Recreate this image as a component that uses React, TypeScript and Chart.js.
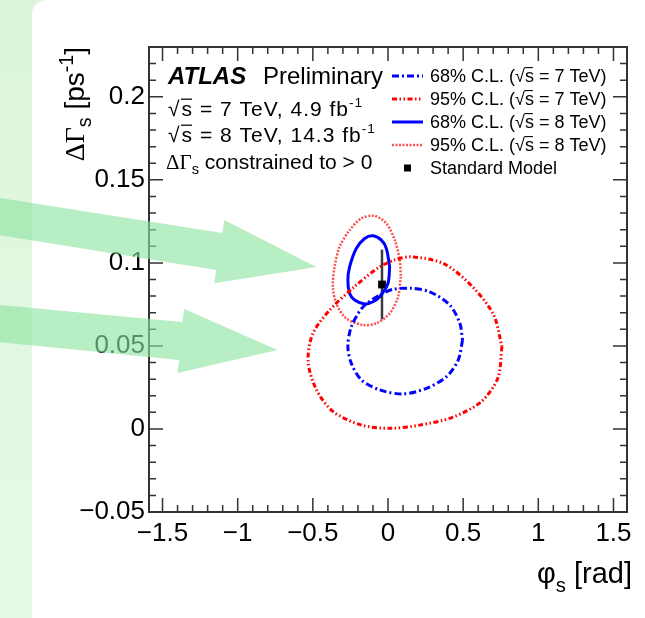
import React, { useEffect, useRef } from 'react';
import { Chart, registerables } from 'chart.js';

Chart.register(...registerables);

// ---- axis ranges and tick labels ----
const X_MIN = -1.59;
const X_MAX = 1.59;
const Y_MIN = -0.05;
const Y_MAX = 0.23;
const X_TICKS = [-1.5, -1, -0.5, 0, 0.5, 1, 1.5];
const Y_TICKS = [-0.05, 0, 0.05, 0.1, 0.15, 0.2];

// ---- contours (phi_s [rad], DeltaGamma_s [ps^-1]) ----
const CL68_7TEV_PHI = [0.496, 0.467, 0.389, 0.256, 0.1, -0.055, -0.177, -0.244, -0.267, -0.244, -0.165, -0.055, 0.033, 0.156, 0.278, 0.411, 0.478];
const CL68_7TEV_DG = [0.0535, 0.0415, 0.0315, 0.0245, 0.0211, 0.0235, 0.0295, 0.0395, 0.0495, 0.0616, 0.0736, 0.0806, 0.0841, 0.0847, 0.0826, 0.0746, 0.0636];

const CL95_7TEV_PHI = [0.758, 0.731, 0.621, 0.429, 0.21, 0.018, -0.176, -0.367, -0.476, -0.531, -0.503, -0.394, -0.229, -0.065, 0.045, 0.155, 0.374, 0.567, 0.703];
const CL95_7TEV_DG = [0.0496, 0.0307, 0.0165, 0.007, 0.0023, 0.0004, 0.0023, 0.0106, 0.0236, 0.0402, 0.0568, 0.071, 0.0852, 0.0971, 0.1018, 0.1037, 0.0994, 0.0852, 0.0686];

const CL68_8TEV_PHI = [0.011, 0.0, -0.055, -0.1, -0.155, -0.222, -0.255, -0.267, -0.255, -0.211, -0.155, -0.1, -0.044, -0.011];
const CL68_8TEV_DG = [0.0977, 0.0877, 0.0796, 0.0766, 0.0752, 0.0776, 0.0816, 0.0896, 0.0977, 0.1087, 0.1147, 0.1163, 0.1137, 0.1087];

const CL95_8TEV_PHI = [0.085, 0.067, 0.011, -0.078, -0.167, -0.278, -0.344, -0.367, -0.355, -0.322, -0.255, -0.177, -0.089, -0.011, 0.045, 0.078];
const CL95_8TEV_DG = [0.0916, 0.0796, 0.0696, 0.0636, 0.0626, 0.0666, 0.0756, 0.0856, 0.0977, 0.1097, 0.1197, 0.1268, 0.1283, 0.1238, 0.1137, 0.1017];

// ---- Standard Model prediction ----
const SM_PHI = [-0.04];
const SM_DG = [0.087];
const SM_DG_ERR = [0.021];

// ---- legend labels ----
const LEGEND_LABELS = [
  '68% C.L. (√s = 7 TeV)',
  '95% C.L. (√s = 7 TeV)',
  '68% C.L. (√s = 8 TeV)',
  '95% C.L. (√s = 8 TeV)',
  'Standard Model',
];

// ---- green annotation arrows (data coordinates) ----
const ARROW1_PHI = [-2.7, -1.102, -1.089, -0.477, -1.156, -1.142, -2.7];
const ARROW1_DG = [0.1407, 0.118, 0.1258, 0.0975, 0.0878, 0.0957, 0.1183];
const ARROW2_PHI = [-2.7, -1.369, -1.355, -0.735, -1.402, -1.389, -2.7];
const ARROW2_DG = [0.0756, 0.0644, 0.0722, 0.0475, 0.0337, 0.0415, 0.0533];

const FONT = '"Liberation Sans", Arial, Helvetica, sans-serif';
const SERIF = '"Liberation Serif", "Times New Roman", serif';

const closed = (xs: number[], ys: number[]) => {
  const pts = xs.map((x, i) => ({ x, y: ys[i] }));
  pts.push({ ...pts[0] });
  return pts;
};

type Part = { t: string; scale?: number; dy?: number; family?: string; bold?: boolean; italic?: boolean; over?: boolean; pad?: number };

function drawRich(ctx: CanvasRenderingContext2D, parts: Part[], x: number, y: number, size: number, align: 'left' | 'right' = 'left') {
  const fontOf = (p: Part) => `${p.italic ? 'italic ' : ''}${p.bold ? 'bold ' : ''}${(size * (p.scale ?? 1)).toFixed(2)}px ${p.family ?? FONT}`;
  const widths = parts.map((p) => {
    ctx.font = fontOf(p);
    return ctx.measureText(p.t).width + (p.pad ?? 0) * size;
  });
  const total = widths.reduce((a, b) => a + b, 0);
  let cx = align === 'right' ? x - total : x;
  ctx.textAlign = 'left';
  ctx.textBaseline = 'alphabetic';
  parts.forEach((p, i) => {
    ctx.font = fontOf(p);
    ctx.fillText(p.t, cx, y + (p.dy ?? 0) * size);
    if (p.over) {
      ctx.save();
      ctx.lineWidth = Math.max(1, size * 0.06);
      ctx.strokeStyle = ctx.fillStyle as string;
      ctx.beginPath();
      ctx.moveTo(cx - 0.5, y - size * 0.8);
      ctx.lineTo(cx + widths[i] - 1, y - size * 0.8);
      ctx.stroke();
      ctx.restore();
    }
    cx += widths[i];
  });
}

function labelParts(label: string): Part[] {
  const idx = label.indexOf('√s');
  if (idx < 0) return [{ t: label }];
  return [
    { t: label.slice(0, idx) },
    { t: '√' },
    { t: 's', over: true },
    { t: label.slice(idx + 2) },
  ];
}

const fmtTick = (v: number) => {
  const s = String(Number(v.toFixed(3)));
  return s.replace('-', '\u2212');
};

const decorPlugin = {
  id: 'atlasDecor',
  beforeDatasetDraw(chart: any, args: any) {
    if (args.index !== 4) return;
    const { ctx, scales } = chart;
    ctx.save();
    ctx.strokeStyle = '#3a3a3a';
    ctx.lineWidth = 2.5;
    SM_PHI.forEach((phi, i) => {
      const px = scales.x.getPixelForValue(phi);
      ctx.beginPath();
      ctx.moveTo(px, scales.y.getPixelForValue(SM_DG[i] - SM_DG_ERR[i]));
      ctx.lineTo(px, scales.y.getPixelForValue(SM_DG[i] + SM_DG_ERR[i]));
      ctx.stroke();
    });
    ctx.restore();
  },
  afterDraw(chart: any) {
    const { ctx, chartArea: a, scales } = chart;
    const xs = scales.x;
    const ys = scales.y;
    ctx.save();

    // frame
    ctx.strokeStyle = '#333';
    ctx.lineWidth = 2;
    ctx.strokeRect(a.left, a.top, a.right - a.left, a.bottom - a.top);

    // ticks (inward, on all four sides)
    ctx.lineWidth = 1.5;
    ctx.beginPath();
    for (let k = Math.ceil(X_MIN / 0.1); k * 0.1 <= X_MAX + 1e-9; k++) {
      const v = k * 0.1;
      const major = Math.abs(v / 0.5 - Math.round(v / 0.5)) < 1e-6;
      const len = major ? 14 : 7;
      const px = xs.getPixelForValue(v);
      ctx.moveTo(px, a.bottom);
      ctx.lineTo(px, a.bottom - len);
      ctx.moveTo(px, a.top);
      ctx.lineTo(px, a.top + len);
    }
    for (let k = Math.ceil(Y_MIN / 0.01 - 1e-9); k * 0.01 <= Y_MAX + 1e-9; k++) {
      const v = k * 0.01;
      const major = Math.abs(v / 0.05 - Math.round(v / 0.05)) < 1e-6;
      const len = major ? 14 : 7;
      const py = ys.getPixelForValue(v);
      ctx.moveTo(a.left, py);
      ctx.lineTo(a.left + len, py);
      ctx.moveTo(a.right, py);
      ctx.lineTo(a.right - len, py);
    }
    ctx.stroke();

    ctx.fillStyle = '#000';

    // axis titles
    drawRich(ctx, [{ t: 'φ' }, { t: 's', scale: 0.7, dy: 0.3 }, { t: ' [rad]' }], 632, 583, 29, 'right');
    ctx.save();
    ctx.translate(84, a.top);
    ctx.rotate(-Math.PI / 2);
    drawRich(
      ctx,
      [
        { t: 'ΔΓ', family: SERIF },
        { t: 's', scale: 0.7, dy: 0.25 },
        { t: ' [ps' },
        { t: '-1', scale: 0.7, dy: -0.4 },
        { t: ']' },
      ],
      0,
      0,
      28,
      'right'
    );
    ctx.restore();

    // ATLAS label block
    const lx = a.left + 19;
    drawRich(ctx, [{ t: 'ATLAS', bold: true, italic: true }], lx, a.top + 37, 24);
    drawRich(ctx, [{ t: 'Preliminary' }], lx + 95, a.top + 37, 24);
    (ctx as any).letterSpacing = '1px';
    drawRich(ctx, [{ t: '√', pad: 0.05 }, { t: 's', over: true }, { t: ' = 7 TeV, 4.9 fb' }, { t: '-1', scale: 0.65, dy: -0.45 }], lx, a.top + 69, 21);
    drawRich(ctx, [{ t: '√', pad: 0.05 }, { t: 's', over: true }, { t: ' = 8 TeV, 14.3 fb' }, { t: '-1', scale: 0.65, dy: -0.45 }], lx, a.top + 95, 21);
    (ctx as any).letterSpacing = '0px';
    drawRich(ctx, [{ t: 'ΔΓ', family: SERIF }, { t: 's', scale: 0.7, dy: 0.25 }, { t: ' constrained to > 0' }], lx - 2, a.top + 122, 21);

    // legend
    const datasets = chart.data.datasets;
    const rowY = [a.top + 29, a.top + 52, a.top + 75, a.top + 98, a.top + 121];
    const sx0 = a.left + 243;
    const sx1 = a.left + 274;
    const tx = a.left + 281;
    LEGEND_LABELS.forEach((lab, i) => {
      const ds = datasets[i];
      const y = rowY[i];
      ctx.save();
      if (ds.showLine) {
        ctx.strokeStyle = ds.borderColor;
        ctx.lineWidth = ds.borderWidth;
        ctx.setLineDash(ds.borderDash || []);
        ctx.beginPath();
        ctx.moveTo(sx0, y);
        ctx.lineTo(sx1, y);
        ctx.stroke();
      } else {
        ctx.fillStyle = ds.backgroundColor;
        ctx.fillRect((sx0 + sx1) / 2 - 3.5, y - 3.5, 7, 7);
      }
      ctx.restore();
      ctx.fillStyle = '#000';
      drawRich(ctx, labelParts(lab), tx, y + 6, 18);
    });

    // green annotation arrows
    ctx.fillStyle = 'rgba(140, 228, 160, 0.62)';
    [
      [ARROW1_PHI, ARROW1_DG],
      [ARROW2_PHI, ARROW2_DG],
    ].forEach(([px, py]) => {
      ctx.beginPath();
      px.forEach((v, i) => {
        const X = xs.getPixelForValue(v);
        const Y = ys.getPixelForValue(py[i]);
        if (i === 0) ctx.moveTo(X, Y);
        else ctx.lineTo(X, Y);
      });
      ctx.closePath();
      ctx.fill();
    });

    ctx.restore();
  },
};

export default function App() {
  const ref = useRef<HTMLCanvasElement>(null);

  useEffect(() => {
    const canvas = ref.current;
    if (!canvas) return;
    const lineDs = (label: string, xs: number[], ys: number[], color: string, width: number, dash: number[]) => ({
      label,
      data: closed(xs, ys),
      showLine: true,
      borderColor: color,
      backgroundColor: color,
      borderWidth: width,
      borderDash: dash,
      pointRadius: 0,
      tension: 0.3,
      fill: false,
    });
    const chart = new Chart(canvas, {
      type: 'scatter',
      data: {
        datasets: [
          lineDs(LEGEND_LABELS[0], CL68_7TEV_PHI, CL68_7TEV_DG, '#0000ff', 3, [7, 3, 2, 3]),
          lineDs(LEGEND_LABELS[1], CL95_7TEV_PHI, CL95_7TEV_DG, '#ff0000', 3, [5, 2.5, 1.5, 2.5, 1.5, 2.5]),
          lineDs(LEGEND_LABELS[2], CL68_8TEV_PHI, CL68_8TEV_DG, '#0000ff', 3, []),
          lineDs(LEGEND_LABELS[3], CL95_8TEV_PHI, CL95_8TEV_DG, '#ff5050', 2.5, [2, 1.5]),
          {
            label: LEGEND_LABELS[4],
            data: SM_PHI.map((x, i) => ({ x, y: SM_DG[i] })),
            showLine: false,
            pointStyle: 'rect',
            pointRadius: 5.5,
            backgroundColor: '#000',
            borderColor: '#000',
            borderWidth: 0,
          },
        ] as any,
      },
      options: {
        responsive: false,
        animation: false,
        devicePixelRatio: 1,
        events: [],
        layout: { padding: { left: 0, top: 47, right: 18, bottom: 0 } },
        plugins: {
          legend: { display: false },
          tooltip: { enabled: false },
          title: { display: false },
        },
        scales: {
          x: {
            type: 'linear',
            min: X_MIN,
            max: X_MAX,
            grid: { display: false, drawTicks: false },
            border: { display: false },
            ticks: {
              padding: 6,
              color: '#000',
              font: { family: FONT, size: 26 },
              callback: (v: any) => fmtTick(Number(v)),
              maxRotation: 0,
              autoSkip: false,
            },
            afterBuildTicks: (s: any) => {
              s.ticks = X_TICKS.map((v) => ({ value: v }));
            },
            afterFit: (s: any) => {
              s.height = 106;
            },
          },
          y: {
            type: 'linear',
            min: Y_MIN,
            max: Y_MAX,
            grid: { display: false, drawTicks: false },
            border: { display: false },
            ticks: {
              padding: 4,
              color: '#000',
              font: { family: FONT, size: 26 },
              callback: (v: any) => fmtTick(Number(v)),
              autoSkip: false,
            },
            afterBuildTicks: (s: any) => {
              s.ticks = Y_TICKS.map((v) => ({ value: v }));
            },
            afterFit: (s: any) => {
              s.width = 149;
            },
          },
        },
      } as any,
      plugins: [decorPlugin],
    });
    return () => chart.destroy();
  }, []);

  return (
    <div
      style={{
        position: 'fixed',
        left: 0,
        top: 0,
        width: 645,
        height: 618,
        overflow: 'hidden',
        background: 'linear-gradient(#dbf5db, #e6f9e6)',
      }}
    >
      <div
        style={{
          position: 'absolute',
          left: 32,
          top: 0,
          right: 0,
          bottom: 0,
          background: '#ffffff',
          borderTopLeftRadius: 14,
        }}
      />
      <canvas ref={ref} width={645} height={618} style={{ position: 'absolute', left: 0, top: 0 }} />
    </div>
  );
}
